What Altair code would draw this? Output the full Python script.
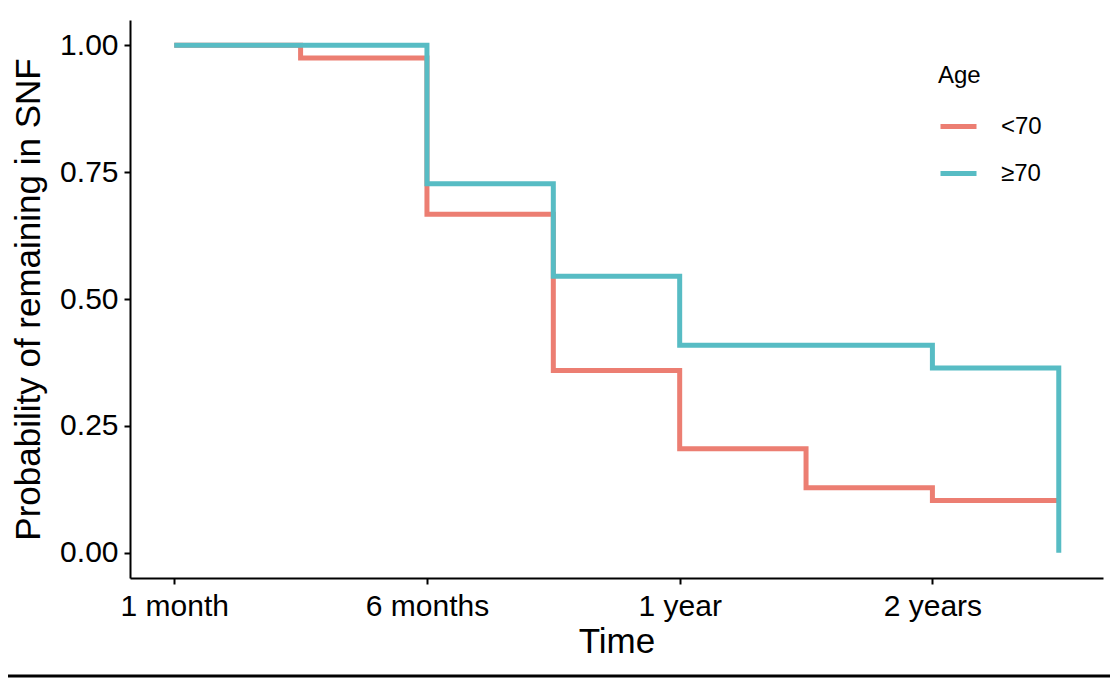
import altair as alt
import pandas as pd

# Data
tick_values = [1, 2, 3, 4]
tick_labels = ["1 month", "6 months", "1 year", "2 years"]

groups = ["<70", "≥70"]
colors = ["#EC7E72", "#57BCC4"]

young_x = [1, 1.5, 2, 2.5, 3, 3.5, 4, 4.5]
young_y = [1.0, 0.975, 0.667, 0.359, 0.205, 0.128, 0.103, 0.103]

old_x = [1, 2, 2.5, 3, 4, 4.5]
old_y = [1.0, 0.727, 0.545, 0.409, 0.364, 0.0]

rows = []
for i, (x, y) in enumerate(zip(young_x, young_y)):
    rows.append({"time": x, "prob": y, "Age": groups[0], "order": i})
for i, (x, y) in enumerate(zip(old_x, old_y)):
    rows.append({"time": x, "prob": y, "Age": groups[1], "order": i})
df = pd.DataFrame(rows)

label_expr = " : ".join(
    [f"datum.value == {v} ? '{l}'" for v, l in zip(tick_values, tick_labels)]
) + " : ''"

FONT = "Liberation Sans"
W, H = 973, 558

lines = alt.Chart(df).mark_line(interpolate="step-after", strokeWidth=5, clip=False).encode(
    x=alt.X("time:Q",
            scale=alt.Scale(domain=[0.825, 4.675], nice=False, zero=False),
            axis=alt.Axis(values=tick_values, labelExpr=label_expr, title="Time",
                          labelPadding=7, titlePadding=3)),
    y=alt.Y("prob:Q",
            scale=alt.Scale(domain=[-0.05, 1.05], nice=False, zero=False),
            axis=alt.Axis(values=[0, 0.25, 0.5, 0.75, 1.0], format=".2f",
                          title="Probability of remaining in SNF",
                          labelPadding=6, titlePadding=13)),
    color=alt.Color("Age:N",
                    scale=alt.Scale(domain=groups, range=colors),
                    legend=alt.Legend(orient="none", legendX=808, legendY=44,
                                      symbolType="stroke", symbolSize=1296,
                                      symbolStrokeWidth=5, titleFontSize=24,
                                      labelFontSize=24, titleFontWeight="normal",
                                      rowPadding=14, labelOffset=22, titlePadding=18,
                                      titleColor="black", labelColor="black")),
    order="order:Q",
)

bottom = alt.Chart(pd.DataFrame({"a": [0]})).mark_rule(color="black", strokeWidth=3, clip=False).encode(
    x=alt.value(-130), x2=alt.value(1118 - 130), y=alt.value(656)
)

chart = alt.layer(lines, bottom).properties(
    width=W, height=H,
    autosize=alt.AutoSizeParams(type="none"),
    padding={"left": 122, "top": 12, "right": 7, "bottom": 100},
).configure_view(stroke=None).configure_axis(
    grid=False, domainColor="black", domainWidth=2, tickColor="black", tickWidth=2,
    tickSize=6, labelColor="black", titleColor="black", labelFont=FONT, titleFont=FONT,
    labelFontSize=30, titleFontSize=35, titleFontWeight="normal",
).configure_legend(labelFont=FONT, titleFont=FONT)

chart.save("out.html", embed_options={"renderer": "svg", "actions": False})
